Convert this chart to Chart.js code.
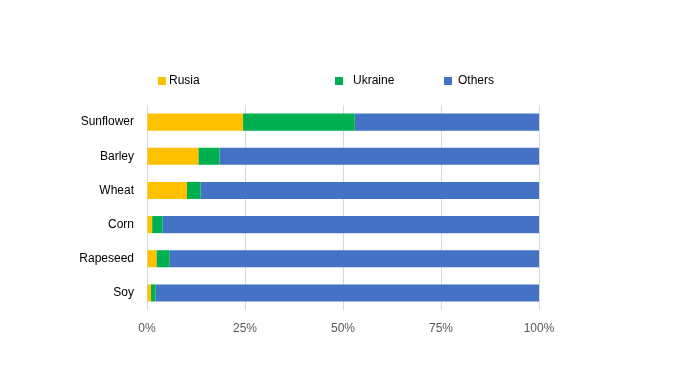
<!DOCTYPE html>
<html>
<head>
<meta charset="utf-8">
<script src="https://cdn.jsdelivr.net/npm/chart.js@4/dist/chart.umd.min.js"></script>
<style>
  html, body { margin: 0; padding: 0; background: #fff; }
  #wrap { width: 674px; height: 390px; }
</style>
</head>
<body>
<div id="wrap"><canvas id="myChart" width="674" height="390"></canvas></div>
<script>
const crops = ['Sunflower', 'Barley', 'Wheat', 'Corn', 'Rapeseed', 'Soy'];
const rusia = [24.5, 13.1, 10.2, 1.3, 2.4, 1.0];
const ukraine = [28.5, 5.4, 3.5, 2.7, 3.4, 1.2];
const others = [47.0, 81.5, 86.3, 96.0, 94.2, 97.8];
const xTicks = [0, 25, 50, 75, 100];

const colors = ['#FFC000', '#00B050', '#4472C4'];
const names = ['Rusia', 'Ukraine', 'Others'];

// hand drawn legend, the spacing in the original is uneven
const legendPlugin = {
    id: 'looseLegend',
    afterDraw(chart) {
        const ctx = chart.ctx;
        const items = [
            { box: 158, text: 169 },
            { box: 335, text: 353 },
            { box: 444, text: 458 }
        ];
        ctx.save();
        ctx.font = '12px "Liberation Sans", Arial, sans-serif';
        ctx.textBaseline = 'middle';
        ctx.textAlign = 'left';
        items.forEach((it, i) => {
            ctx.fillStyle = colors[i];
            ctx.fillRect(it.box, 77, 8, 8);
            ctx.fillStyle = '#000';
            ctx.fillText(names[i], it.text, 81);
        });
        ctx.restore();
    }
};

var ctx = document.getElementById('myChart').getContext('2d');

var myChart = new Chart(ctx, {
    type: 'bar',
    data: {
        labels: crops,
        datasets: [
            { label: names[0], data: rusia, backgroundColor: colors[0] },
            { label: names[1], data: ukraine, backgroundColor: colors[1] },
            { label: names[2], data: others, backgroundColor: colors[2] }
        ]
    },
    options: {
        indexAxis: 'y',
        responsive: false,
        animation: false,
        devicePixelRatio: 1,
        barPercentage: 0.5,
        categoryPercentage: 1,
        layout: {
            padding: { top: 105, right: 135, left: 0, bottom: 0 }
        },
        plugins: {
            legend: { display: false },
            tooltip: { enabled: false }
        },
        scales: {
            x: {
                stacked: true,
                min: 0,
                max: 100,
                afterBuildTicks: (scale) => {
                    scale.ticks = xTicks.map(v => ({ value: v }));
                },
                afterFit: (scale) => { scale.height = 80; },
                grid: { color: '#d9d9d9', drawTicks: false },
                border: { display: false },
                ticks: {
                    padding: 11,
                    color: '#595959',
                    font: { family: '"Liberation Sans", Arial, sans-serif', size: 12 },
                    callback: (v) => v + '%'
                }
            },
            y: {
                stacked: true,
                afterFit: (scale) => { scale.width = 147; },
                grid: { display: false, drawTicks: false },
                border: { display: false },
                ticks: {
                    padding: 13,
                    color: '#000',
                    font: { family: '"Liberation Sans", Arial, sans-serif', size: 12 }
                }
            }
        }
    },
    plugins: [legendPlugin]
});
</script>
</body>
</html>
